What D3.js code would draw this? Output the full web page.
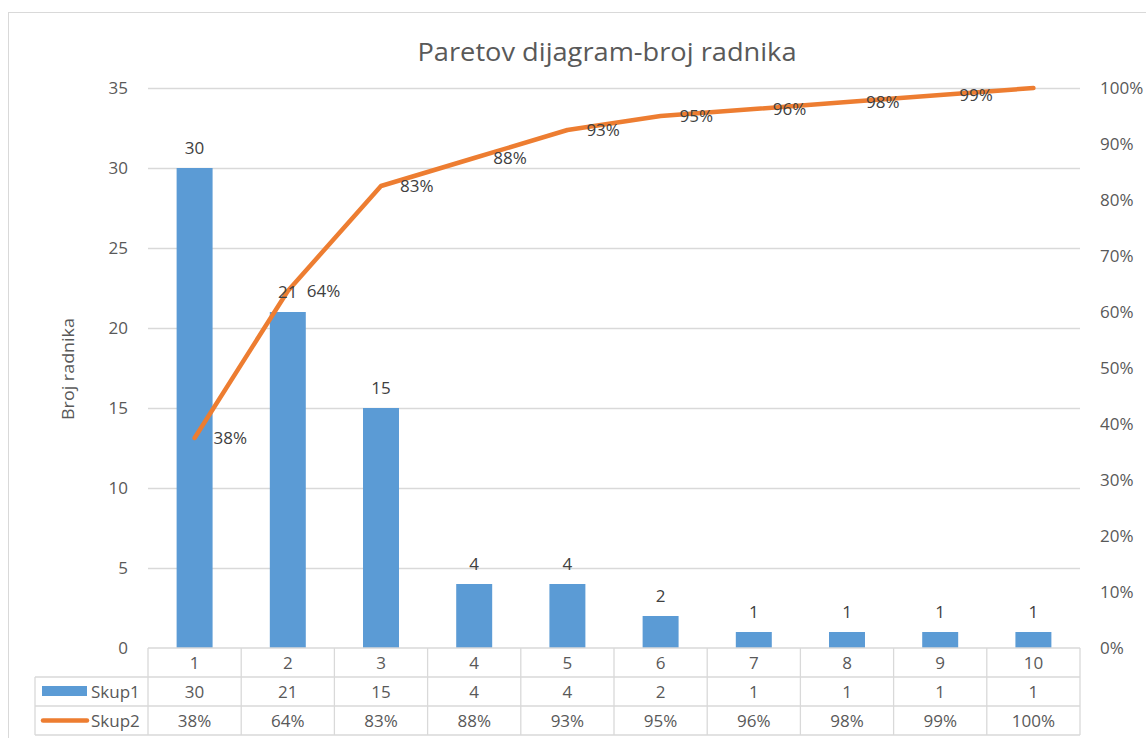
<!DOCTYPE html>
<html>
<head>
<meta charset="utf-8">
<script src="https://cdn.jsdelivr.net/npm/d3@7"></script>
<style>
  body { margin: 0; background: #fff; }
  svg text { font-family: "Open Sans", sans-serif; fill: #595959; }
</style>
</head>
<body>
<svg id="chart" width="1146" height="738"></svg>
<script>
// chart data
var categories = ['1', '2', '3', '4', '5', '6', '7', '8', '9', '10'];
var skup1 = [30, 21, 15, 4, 4, 2, 1, 1, 1, 1];
var skup2 = [0.375, 0.6375, 0.825, 0.875, 0.925, 0.95, 0.9625, 0.975, 0.9875, 1];
var skup2_labels = ['38%', '64%', '83%', '88%', '93%', '95%', '96%', '98%', '99%', '100%'];
var left_ticks = [0, 5, 10, 15, 20, 25, 30, 35];
var right_ticks = [0, 0.1, 0.2, 0.3, 0.4, 0.5, 0.6, 0.7, 0.8, 0.9, 1];

var svg = d3.select('#chart');

var plot = { left: 148, right: 1080, top: 88, bottom: 648 };
var rowH = 29;
var legendLeft = 35;

// outer frame
svg.append('rect')
    .attr('x', 8.5).attr('y', 12.5)
    .attr('width', 1160).attr('height', 760)
    .attr('fill', 'none')
    .attr('stroke', '#d9d9d9');

var x = d3.scaleBand()
    .domain(categories)
    .range([plot.left, plot.right])
    .paddingInner(0.614)
    .paddingOuter(0.307);

var y = d3.scaleLinear().domain([0, 35]).range([plot.bottom, plot.top]);
var y2 = d3.scaleLinear().domain([0, 1]).range([plot.bottom, plot.top]);

// left axis with gridlines
var gAxis = svg.append('g')
    .attr('transform', 'translate(' + plot.left + ',0)')
    .call(d3.axisLeft(y).tickValues(left_ticks)
        .tickSize(-(plot.right - plot.left)).tickPadding(20));
gAxis.select('.domain').remove();
gAxis.selectAll('line')
    .attr('stroke', '#d9d9d9')
    .attr('stroke-width', 1.3)
    .filter(function(d) { return d === 0; }).remove();
gAxis.selectAll('text')
    .style('font-size', '17px')
    .attr('fill', '#595959');

// right axis
var gAxis2 = svg.append('g')
    .attr('transform', 'translate(' + (plot.right + 20) + ',0)')
    .call(d3.axisRight(y2).tickValues(right_ticks)
        .tickSize(0).tickPadding(0).tickFormat(d3.format('.0%')));
gAxis2.select('.domain').remove();
gAxis2.selectAll('text')
    .style('font-size', '17px')
    .attr('fill', '#595959');

// title
svg.append('text')
    .attr('x', 607).attr('y', 61)
    .attr('text-anchor', 'middle')
    .attr('textLength', 379)
    .attr('lengthAdjust', 'spacingAndGlyphs')
    .style('font-size', '25px')
    .text('Paretov dijagram-broj radnika');

// axis title
svg.append('text')
    .attr('transform', 'translate(74,369) rotate(-90)')
    .attr('text-anchor', 'middle')
    .attr('textLength', 102)
    .attr('lengthAdjust', 'spacingAndGlyphs')
    .style('font-size', '17px')
    .text('Broj radnika');

// bars
svg.append('g').selectAll('rect')
    .data(skup1)
    .enter()
    .append('rect')
    .attr('x', function(d, i) { return x(categories[i]); })
    .attr('y', function(d) { return y(d); })
    .attr('width', x.bandwidth())
    .attr('height', function(d) { return y(0) - y(d); })
    .attr('fill', '#5b9bd5');

// cumulative line
var cx = function(i) { return x(categories[i]) + x.bandwidth() / 2; };
var line = d3.line()
    .x(function(d, i) { return cx(i); })
    .y(function(d) { return y2(d); });

svg.append('path')
    .datum(skup2)
    .attr('d', line)
    .attr('fill', 'none')
    .attr('stroke', '#ed7d31')
    .attr('stroke-width', 4.5)
    .attr('stroke-linejoin', 'round')
    .attr('stroke-linecap', 'round');

// bar labels
svg.append('g').selectAll('text')
    .data(skup1)
    .enter()
    .append('text')
    .attr('x', function(d, i) { return cx(i); })
    .attr('y', function(d) { return y(d) - 14; })
    .attr('text-anchor', 'middle')
    .style('font-size', '17px')
    .style('fill', '#404040')
    .text(function(d) { return d; });

// line labels (last one is not shown in the original)
svg.append('g').selectAll('text')
    .data(skup2.slice(0, -1))
    .enter()
    .append('text')
    .attr('x', function(d, i) { return cx(i) + 19; })
    .attr('y', function(d) { return y2(d); })
    .attr('dy', '0.35em')
    .style('font-size', '17px')
    .style('fill', '#404040')
    .text(function(d, i) { return skup2_labels[i]; });

// data table
var table = svg.append('g').attr('stroke', '#d9d9d9').attr('stroke-width', 1.3);
var step = x.step();
var tableBottom = plot.bottom + rowH * 3;

table.append('line')
    .attr('x1', plot.left).attr('x2', plot.right)
    .attr('y1', plot.bottom).attr('y2', plot.bottom);
[1, 2, 3].forEach(function(r) {
    table.append('line')
        .attr('x1', legendLeft).attr('x2', plot.right)
        .attr('y1', plot.bottom + rowH * r).attr('y2', plot.bottom + rowH * r);
});
d3.range(categories.length + 1).forEach(function(k) {
    table.append('line')
        .attr('x1', plot.left + step * k).attr('x2', plot.left + step * k)
        .attr('y1', plot.bottom).attr('y2', tableBottom);
});
table.append('line')
    .attr('x1', legendLeft).attr('x2', legendLeft)
    .attr('y1', plot.bottom + rowH).attr('y2', tableBottom);

var rows = [categories, skup1, skup2_labels];
rows.forEach(function(row, r) {
    svg.append('g').selectAll('text')
        .data(row)
        .enter()
        .append('text')
        .attr('x', function(d, i) { return cx(i); })
        .attr('y', plot.bottom + rowH * r + rowH / 2)
        .attr('dy', '0.36em')
        .attr('text-anchor', 'middle')
        .style('font-size', '17px')
        .text(function(d) { return d; });
});

// legend keys
svg.append('rect')
    .attr('x', 42).attr('y', plot.bottom + rowH + 9)
    .attr('width', 45).attr('height', 10)
    .attr('fill', '#5b9bd5');
svg.append('line')
    .attr('x1', 43).attr('x2', 87)
    .attr('y1', plot.bottom + rowH * 2.5).attr('y2', plot.bottom + rowH * 2.5)
    .attr('stroke', '#ed7d31')
    .attr('stroke-width', 4.5)
    .attr('stroke-linecap', 'round');
['Skup1', 'Skup2'].forEach(function(name, r) {
    svg.append('text')
        .attr('x', 91)
        .attr('y', plot.bottom + rowH * (r + 1) + rowH / 2)
        .attr('dy', '0.36em')
        .style('font-size', '17px')
        .text(name);
});
</script>
</body>
</html>
